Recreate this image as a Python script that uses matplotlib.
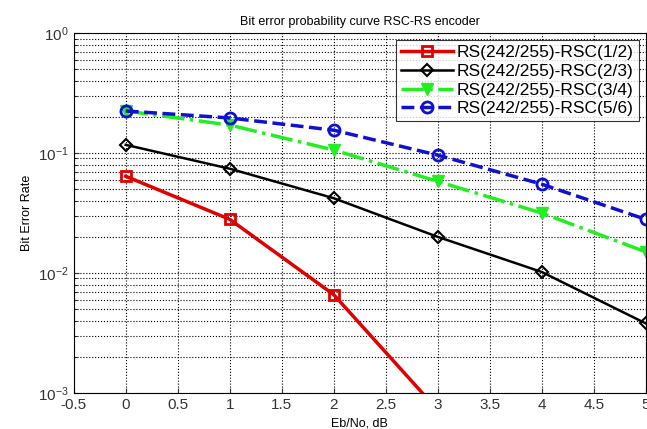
import matplotlib
matplotlib.use("Agg")
import matplotlib.pyplot as plt

plt.rcParams['font.family'] = ['Liberation Sans', 'DejaVu Sans']

# Eb/No values (dB)
ebno = [0, 1, 2, 3, 4, 5]

# bit error rates
ber_12 = [0.064, 0.028, 0.0066, 0.00072]
ber_23 = [0.117, 0.074, 0.042, 0.020, 0.0102, 0.0038]
ber_34 = [0.224, 0.171, 0.106, 0.058, 0.0316, 0.015]
ber_56 = [0.224, 0.196, 0.155, 0.096, 0.055, 0.028]

labels = ['RS(242/255)-RSC(1/2)', 'RS(242/255)-RSC(2/3)',
          'RS(242/255)-RSC(3/4)', 'RS(242/255)-RSC(5/6)']

fig = plt.figure(figsize=(6.47, 4.29), dpi=100)
ax = fig.add_axes([0.114, 0.084, 0.884, 0.839])

ax.semilogy(ebno[:len(ber_12)], ber_12, '-s', color='#e00000', lw=2.5,
            ms=7, mfc='none', mew=2, label=labels[0])
ax.semilogy(ebno, ber_23, '-D', color='black', lw=1.8,
            ms=6, mfc='none', mew=1.5, label=labels[1])
ax.semilogy(ebno, ber_34, '-.v', color='#22ee22', lw=2.5,
            ms=8, label=labels[2])
ax.semilogy(ebno, ber_56, '--o', color='#1010d0', lw=2.5,
            ms=8, mfc='none', mew=2, label=labels[3])

ax.set_xlim(-0.5, 5)
ax.set_ylim(1e-3, 1)
ax.set_xticks([-0.5, 0, 0.5, 1, 1.5, 2, 2.5, 3, 3.5, 4, 4.5, 5])
ax.set_xticklabels(['-0.5', '0', '0.5', '1', '1.5', '2', '2.5', '3',
                    '3.5', '4', '4.5', '5'])
ax.grid(True, which='major', ls=':', color='black', lw=0.8)
ax.grid(True, which='minor', axis='y', ls=':', color='black', lw=0.8)
ax.tick_params(labelsize=11, direction='in', colors='#333333')
ax.tick_params(which='minor', direction='in')

ax.set_title('Bit error probability curve RSC-RS encoder', fontsize=9)
ax.set_xlabel('Eb/No, dB', fontsize=9)
ax.set_ylabel('Bit Error Rate', fontsize=9)

leg = ax.legend(loc='upper right', fontsize=12.5, fancybox=False,
                edgecolor='black', borderpad=0.3, labelspacing=0.2,
                handlelength=3.0, handletextpad=0.2, borderaxespad=0.4)
leg.get_frame().set_linewidth(0.8)

fig.savefig('out.png', dpi=100)
